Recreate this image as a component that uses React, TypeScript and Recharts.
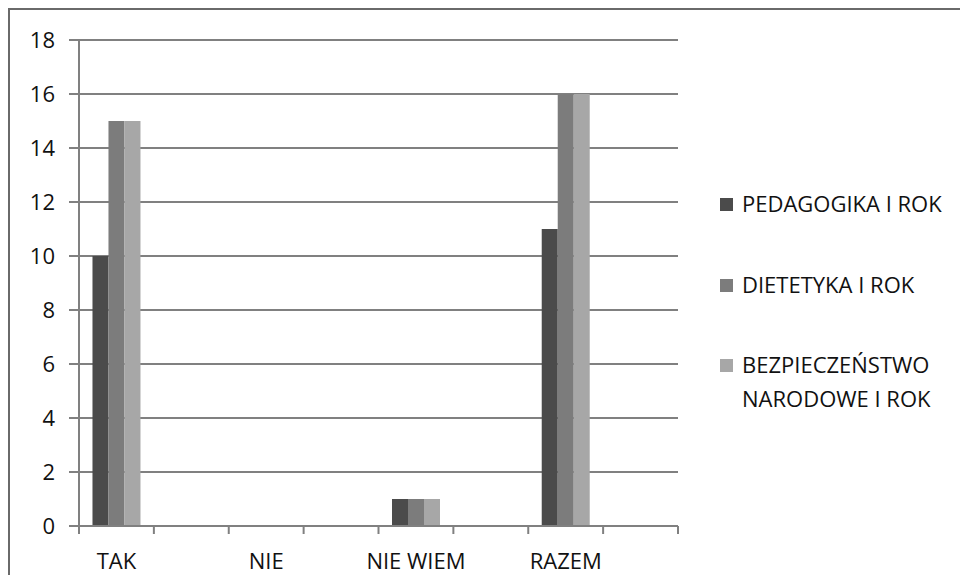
import React from "react";
import { BarChart, Bar, XAxis, YAxis, CartesianGrid, Legend } from "recharts";

const categories = ["TAK", "", "NIE", "", "NIE WIEM", "", "RAZEM", ""];
const pedagogika = [10, null, 0, null, 1, null, 11, null];
const dietetyka = [15, null, 0, null, 1, null, 16, null];
const bezpieczenstwo = [15, null, 0, null, 1, null, 16, null];
const yTicks = [0, 2, 4, 6, 8, 10, 12, 14, 16, 18];

const seriesNames = ["PEDAGOGIKA I ROK", "DIETETYKA I ROK", "BEZPIECZEŃSTWO NARODOWE I ROK"];
const seriesColors = ["#4b4b4b", "#7c7c7c", "#a7a7a7"];

const data = categories.map((c, i) => ({
  idx: i,
  label: c,
  s0: pedagogika[i],
  s1: dietetyka[i],
  s2: bezpieczenstwo[i],
}));

const FONT = "'Open Sans', Lato, sans-serif";
const GRID = "#808080";
const TEXT = "#111111";
const X_TICK_SIZE = 8;
const X_TICK_MARGIN = 19;

const CategoryTick = (props: any) => {
  const { x, y, payload, index, visibleTicksCount, width } = props;
  const count = visibleTicksCount || categories.length;
  const bw = width && count ? width / count : (payload?.offset || 0) * 2;
  const axisY = y - X_TICK_SIZE - X_TICK_MARGIN;
  const left = x - bw / 2;
  const right = x + bw / 2;
  return (
    <g>
      <line x1={left} x2={left} y1={axisY} y2={axisY + X_TICK_SIZE} stroke={GRID} strokeWidth={2} />
      {index === count - 1 && (
        <line x1={right} x2={right} y1={axisY} y2={axisY + X_TICK_SIZE} stroke={GRID} strokeWidth={2} />
      )}
      <text x={x} y={y} dy="0.71em" textAnchor="middle" fill={TEXT} fontSize={22} fontFamily={FONT}>
        {categories[payload.value]}
      </text>
    </g>
  );
};

const LegendContent = () => {
  return (
    <div style={{ fontFamily: FONT, fontSize: 22, color: TEXT, lineHeight: "33.5px" }}>
      {seriesNames.map((n, i) => (
        <div key={n} style={{ display: "flex", alignItems: "flex-start", marginBottom: 47 }}>
          <div style={{ width: 13, height: 13, background: seriesColors[i], marginTop: 11, marginRight: 9, flex: "0 0 auto" }} />
          <div style={{ width: 218 }}>{n}</div>
        </div>
      ))}
    </div>
  );
};

export default function App() {
  return (
    <div style={{ borderTop: "2px solid #6a6a6a", borderLeft: "2px solid #6a6a6a", width: 950, height: 565, background: "#fff" }}>
      <BarChart
        width={950}
        height={565}
        data={data}
        margin={{ top: 30, right: 282, bottom: 4, left: 0 }}
        barCategoryGap="18%"
        barGap={0}
      >
        <CartesianGrid horizontal={true} vertical={false} stroke={GRID} strokeWidth={2} />
        <XAxis
          dataKey="idx"
          type="category"
          interval={0}
          height={45}
          axisLine={{ stroke: GRID, strokeWidth: 2 }}
          tickLine={false}
          tickSize={X_TICK_SIZE}
          tickMargin={X_TICK_MARGIN}
          tick={<CategoryTick />}
        />
        <YAxis
          domain={[0, 18]}
          ticks={yTicks}
          interval={0}
          width={69}
          tickSize={10}
          tickMargin={14}
          axisLine={{ stroke: GRID, strokeWidth: 2 }}
          tickLine={{ stroke: GRID, strokeWidth: 2 }}
          tick={{ fill: TEXT, fontSize: 22, fontFamily: FONT }}
        />
        <Legend
          layout="horizontal"
          align="center"
          verticalAlign="middle"
          content={<LegendContent />}
          wrapperStyle={{ left: 710, top: 177, width: 240 }}
        />
        {seriesNames.map((n, i) => (
          <Bar key={n} dataKey={"s" + i} name={n} fill={seriesColors[i]} isAnimationActive={false} />
        ))}
      </BarChart>
    </div>
  );
}
